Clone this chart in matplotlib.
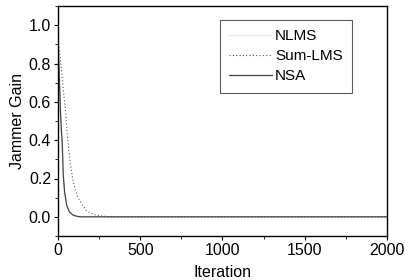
import matplotlib.pyplot as plt
from matplotlib.ticker import MultipleLocator

plt.rcParams["font.family"] = ["Liberation Sans", "DejaVu Sans"]

# values
nsa_x = [0, 5, 10, 15, 20, 26, 32, 40, 53, 70, 90, 110, 134, 200, 500, 1000, 1500, 2000]
nsa_y = [0.90, 0.80, 0.68, 0.55, 0.46, 0.38, 0.22, 0.13, 0.06, 0.025, 0.01, 0.004, 0.0, 0.0, 0.0, 0.0, 0.0, 0.0]

sum_x = [0, 10, 20, 30, 43, 59, 75, 89, 105, 122, 150, 174, 220, 260, 316, 500, 1000, 1500, 2000]
sum_y = [0.92, 0.86, 0.78, 0.68, 0.58, 0.40, 0.28, 0.20, 0.14, 0.10, 0.06, 0.03, 0.012, 0.005, 0.0, 0.0, 0.0, 0.0, 0.0]

nlms_x = [0, 5, 10, 15, 20, 26, 32, 40, 53, 70, 90, 110, 134, 200, 500, 1000, 1500, 2000]
nlms_y = [0.88, 0.78, 0.66, 0.54, 0.45, 0.37, 0.21, 0.12, 0.055, 0.022, 0.009, 0.003, 0.0, 0.0, 0.0, 0.0, 0.0, 0.0]

fig = plt.figure(figsize=(4.06, 2.80), dpi=100)
ax = fig.add_axes([58 / 406, 44 / 280, 329 / 406, 230 / 280])

ax.plot(nlms_x, nlms_y, color="#e8e8e8", lw=0.8, label="NLMS")
ax.plot(sum_x, sum_y, color="#555555", lw=0.8, ls=(0, (1, 2)), label="Sum-LMS")
ax.plot(nsa_x, nsa_y, color="#444444", lw=0.9, label="NSA")

ax.set_xlim(0, 2000)
ax.set_ylim(-0.1, 1.1)
ax.set_xticks([0, 500, 1000, 1500, 2000])
ax.set_yticks([0.0, 0.2, 0.4, 0.6, 0.8, 1.0])
ax.xaxis.set_minor_locator(MultipleLocator(250))
ax.yaxis.set_minor_locator(MultipleLocator(0.1))
ax.tick_params(which="major", direction="out", length=3, width=0.8, labelsize=11.5, pad=2)
ax.tick_params(which="minor", direction="out", length=2, width=0.6)
for s in ax.spines.values():
    s.set_linewidth(1.0)

ax.set_xlabel("Iteration", fontsize=11.5, labelpad=5)
ax.set_ylabel("Jammer Gain", fontsize=11.5, labelpad=3)

leg = ax.legend(loc="upper right", bbox_to_anchor=(0.894, 0.939), fontsize=11,
                frameon=True, fancybox=False, edgecolor="#333333",
                handlelength=2.8, borderpad=0.6, labelspacing=0.4,
                borderaxespad=0, handletextpad=0.2)
leg.get_frame().set_linewidth(0.8)

fig.savefig("out.png", dpi=100)
